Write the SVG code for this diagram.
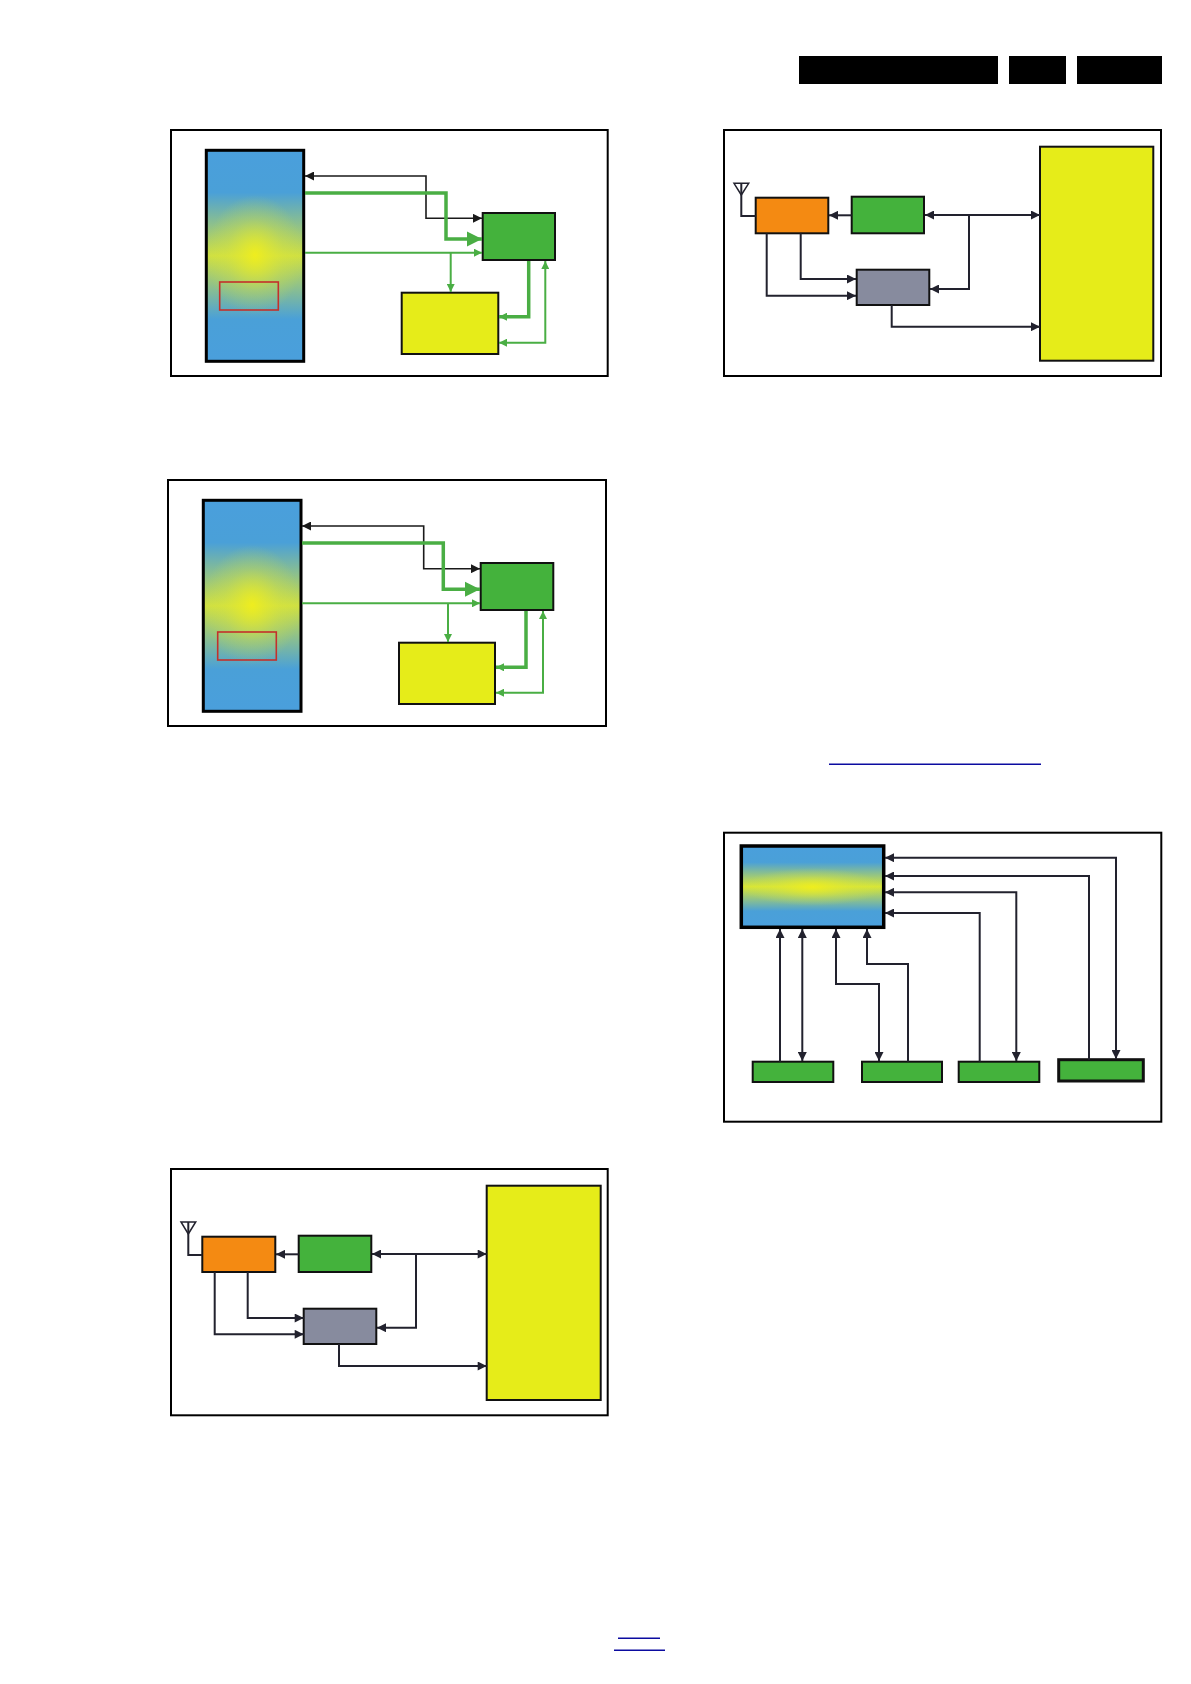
<svg xmlns="http://www.w3.org/2000/svg" width="1191" height="1684" viewBox="0 0 1191 1684">
<style>
.frame{fill:#fff;stroke:#000;stroke-width:2}
.blk{fill:none;stroke:#1a1a1a;stroke-width:1.6}
.nav{fill:none;stroke:#22222e;stroke-width:2}
.gth{fill:none;stroke:#4aae44;stroke-width:3.5}
.gtn{fill:none;stroke:#4aae44;stroke-width:2}
.box{stroke:#111;stroke-width:2}
.green{fill:#44b23c}
.yellow{fill:#e6ec19}
.orange{fill:#f48a12}
.gray{fill:#878b9e}
.red{fill:none;stroke:#c4302b;stroke-width:1.6}
.bar{fill:#000}
.link{stroke:#0b0ba0;stroke-width:1.5}
</style>
<defs>
<marker id="aK" viewBox="0 0 10 10" refX="10" refY="5" markerWidth="10" markerHeight="9" markerUnits="userSpaceOnUse" orient="auto-start-reverse"><path d="M0,0 L10,5 L0,10 z" fill="#1a1a1a"/></marker>
<marker id="aN" viewBox="0 0 10 10" refX="10" refY="5" markerWidth="10" markerHeight="9" markerUnits="userSpaceOnUse" orient="auto-start-reverse"><path d="M0,0 L10,5 L0,10 z" fill="#22222e"/></marker>
<marker id="aG" viewBox="0 0 10 10" refX="10" refY="5" markerWidth="9" markerHeight="8" markerUnits="userSpaceOnUse" orient="auto-start-reverse"><path d="M0,0 L10,5 L0,10 z" fill="#4aae44"/></marker>
<marker id="aGB" viewBox="0 0 10 10" refX="10" refY="5" markerWidth="15" markerHeight="16" markerUnits="userSpaceOnUse" orient="auto-start-reverse"><path d="M0,0 L10,5 L0,10 z" fill="#4aae44"/></marker>
<linearGradient id="gV" x1="0" y1="0" x2="0" y2="1">
<stop offset="0" stop-color="#4a9fdc"/><stop offset="0.2" stop-color="#4aa0d8"/><stop offset="0.5" stop-color="#cfe042"/><stop offset="0.8" stop-color="#4aa0d8"/><stop offset="1" stop-color="#4a9fdc"/>
</linearGradient>
<radialGradient id="rV" cx="0.5" cy="0.5" r="0.5">
<stop offset="0" stop-color="#f0ee1c" stop-opacity="0.95"/><stop offset="0.6" stop-color="#e0e834" stop-opacity="0.3"/><stop offset="1" stop-color="#e0e834" stop-opacity="0"/>
</radialGradient>
<linearGradient id="gH" x1="0" y1="0" x2="0" y2="1">
<stop offset="0" stop-color="#4a9fdc"/><stop offset="0.2" stop-color="#4aa0d8"/><stop offset="0.5" stop-color="#d8e636"/><stop offset="0.8" stop-color="#4aa0d8"/><stop offset="1" stop-color="#4a9fdc"/>
</linearGradient>
</defs>

<g id="header">
<rect class="bar" x="799" y="56" width="199" height="28"/>
<rect class="bar" x="1009" y="56" width="57" height="28"/>
<rect class="bar" x="1077" y="56" width="85" height="28"/>
</g>

<!-- Diagram 1 -->
<g id="d1">
<rect id="d1-frame" class="frame" x="171" y="130" width="436.7" height="246"/>
<g id="d1-soc"><rect x="206.3" y="150.3" width="97.4" height="211" fill="url(#gV)"/><rect x="206.3" y="195" width="97.4" height="120" fill="url(#rV)"/><rect x="206.3" y="150.3" width="97.4" height="211" fill="none" stroke="#000" stroke-width="3"/><rect class="red" x="219.7" y="282" width="58.6" height="28"/></g>
<g id="d1-green"><rect class="green box" x="482.7" y="213" width="72.3" height="47"/></g>
<g id="d1-yellow"><rect class="yellow box" x="401.7" y="292.7" width="96.6" height="61.3"/></g>
<g id="d1-connectors">
<path class="blk" d="M305,176 H426 V218.3 H482" marker-start="url(#aK)" marker-end="url(#aK)"/>
<path class="gth" d="M305,193 H446 V239 H482" marker-end="url(#aGB)"/>
<path class="gtn" d="M305,252.7 H482" marker-end="url(#aG)"/>
<path class="gtn" d="M450.7,252.7 V292" marker-end="url(#aG)"/>
<path class="gth" d="M528.7,261 V316.7 H499" marker-end="url(#aG)"/>
<path class="gtn" d="M499,342.7 H545.3 V261" marker-start="url(#aG)" marker-end="url(#aG)"/>
</g>
</g>

<!-- Diagram 2 -->
<g id="d2">
<rect id="d2-frame" class="frame" x="168" y="480" width="438" height="246"/>
<g id="d2-soc"><rect x="203.3" y="500.3" width="97.7" height="211" fill="url(#gV)"/><rect x="203.3" y="545" width="97.7" height="120" fill="url(#rV)"/><rect x="203.3" y="500.3" width="97.7" height="211" fill="none" stroke="#000" stroke-width="3"/><rect class="red" x="217.7" y="632" width="58.6" height="28"/></g>
<g id="d2-green"><rect class="green box" x="480.7" y="563" width="72.6" height="47"/></g>
<g id="d2-yellow"><rect class="yellow box" x="399" y="642.7" width="96" height="61.3"/></g>
<g id="d2-connectors">
<path class="blk" d="M302,526 H423.7 V568.7 H480" marker-start="url(#aK)" marker-end="url(#aK)"/>
<path class="gth" d="M302,543 H443.3 V589.3 H480" marker-end="url(#aGB)"/>
<path class="gtn" d="M302,603.3 H480" marker-end="url(#aG)"/>
<path class="gtn" d="M448,603.3 V642" marker-end="url(#aG)"/>
<path class="gth" d="M526,611 V667.3 H496" marker-end="url(#aG)"/>
<path class="gtn" d="M496,692.7 H543 V611" marker-start="url(#aG)" marker-end="url(#aG)"/>
</g>
</g>

<!-- Diagram 3 -->
<g id="d3">
<rect id="d3-frame" class="frame" x="724" y="130" width="437" height="246"/>
<g id="d3-yellow"><rect class="yellow box" x="1040" y="146.7" width="113.3" height="214"/></g>
<g id="d3-orange"><rect class="orange box" x="755.7" y="197.7" width="72.6" height="35.6"/></g>
<g id="d3-green"><rect class="green box" x="851.7" y="196.7" width="72.3" height="36.6"/></g>
<g id="d3-gray"><rect class="gray box" x="856.7" y="269.7" width="72.6" height="35.3"/></g>
<g id="d3-antenna" fill="none" stroke="#22222e" stroke-width="1.5"><path d="M734,183.3 H748.7 L741.3,195 Z"/><path d="M741.3,183.3 V216 H755.7" stroke-width="2"/></g>
<g id="d3-connectors">
<path class="nav" d="M851.7,215.3 H829" marker-end="url(#aN)"/>
<path class="nav" d="M925,215 H1040" marker-start="url(#aN)" marker-end="url(#aN)"/>
<path class="nav" d="M969,215 V289 H930" marker-end="url(#aN)"/>
<path class="nav" d="M800.7,233.3 V279 H856" marker-end="url(#aN)"/>
<path class="nav" d="M766.7,233.3 V295.7 H856" marker-end="url(#aN)"/>
<path class="nav" d="M891.7,305 V326.7 H1040" marker-end="url(#aN)"/>
</g>
</g>

<line id="link1" class="link" x1="829" y1="764.3" x2="1041" y2="764.3"/>

<!-- Diagram 4 -->
<g id="d4">
<rect id="d4-frame" class="frame" x="724" y="832.7" width="437.3" height="289"/>
<g id="d4-display"><rect x="741.3" y="846" width="142.4" height="81.3" fill="url(#gH)"/><rect x="741.3" y="868" width="142.4" height="38" fill="url(#rV)"/><rect x="741.3" y="846" width="142.4" height="81.3" fill="none" stroke="#000" stroke-width="3.5"/></g>
<g id="d4-g1"><rect class="green box" x="752.7" y="1061.7" width="80.6" height="20.3"/></g>
<g id="d4-g2"><rect class="green box" x="862" y="1061.7" width="80" height="20.3"/></g>
<g id="d4-g3"><rect class="green box" x="958.7" y="1061.7" width="80.6" height="20.3"/></g>
<g id="d4-g4"><rect class="green" x="1058.7" y="1059.7" width="84.6" height="21.3" stroke="#111" stroke-width="3"/></g>
<g id="d4-connectors">
<path class="nav" d="M780,1061.7 V929" marker-end="url(#aN)"/>
<path class="nav" d="M802.3,929 V1061" marker-start="url(#aN)" marker-end="url(#aN)"/>
<path class="nav" d="M836,929 V984 H879 V1061" marker-start="url(#aN)" marker-end="url(#aN)"/>
<path class="nav" d="M908,1061.7 V964 H867 V929" marker-end="url(#aN)"/>
<path class="nav" d="M885,857.7 H1116 V1059" marker-start="url(#aN)" marker-end="url(#aN)"/>
<path class="nav" d="M1089,1059.7 V876 H885" marker-end="url(#aN)"/>
<path class="nav" d="M885,892.3 H1016.3 V1061" marker-start="url(#aN)" marker-end="url(#aN)"/>
<path class="nav" d="M979.7,1061.7 V913 H885" marker-end="url(#aN)"/>
</g>
</g>

<!-- Diagram 5 -->
<g id="d5">
<rect id="d5-frame" class="frame" x="171" y="1169" width="436.7" height="246.3"/>
<g id="d5-yellow"><rect class="yellow box" x="486.7" y="1185.7" width="114" height="214.3"/></g>
<g id="d5-orange"><rect class="orange box" x="202.3" y="1236.7" width="73" height="35.3"/></g>
<g id="d5-green"><rect class="green box" x="298.7" y="1235.7" width="72.6" height="36.3"/></g>
<g id="d5-gray"><rect class="gray box" x="303.7" y="1308.7" width="72.6" height="35.3"/></g>
<g id="d5-antenna" fill="none" stroke="#22222e" stroke-width="1.5"><path d="M181,1222 H195.7 L188.3,1234 Z"/><path d="M188.3,1222 V1255 H202.3" stroke-width="2"/></g>
<g id="d5-connectors">
<path class="nav" d="M298.7,1254.3 H276" marker-end="url(#aN)"/>
<path class="nav" d="M372,1254 H486.7" marker-start="url(#aN)" marker-end="url(#aN)"/>
<path class="nav" d="M416,1254 V1327.7 H377" marker-end="url(#aN)"/>
<path class="nav" d="M247.7,1272 V1318 H303.7" marker-end="url(#aN)"/>
<path class="nav" d="M214.7,1272 V1334.3 H303.7" marker-end="url(#aN)"/>
<path class="nav" d="M339,1344 V1366 H486.7" marker-end="url(#aN)"/>
</g>
</g>

<g id="footer">
<line class="link" x1="618" y1="1638.3" x2="660" y2="1638.3"/>
<line class="link" x1="614" y1="1650.3" x2="665" y2="1650.3"/>
</g>
</svg>
